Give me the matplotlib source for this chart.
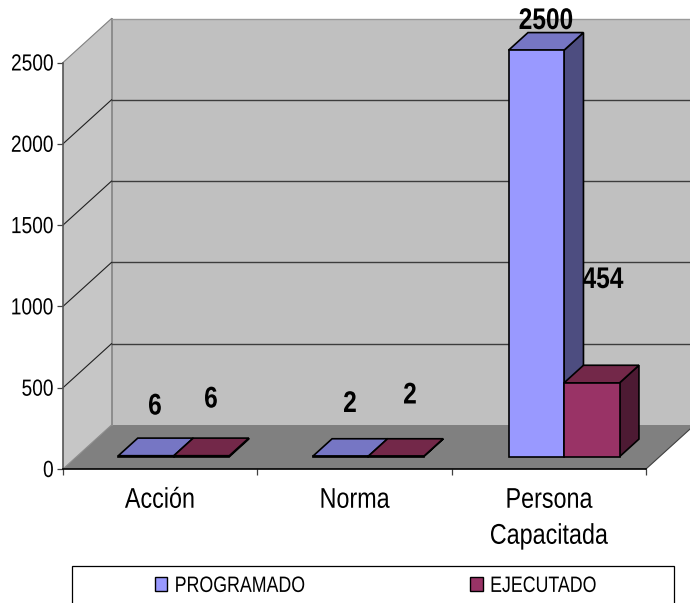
import matplotlib
matplotlib.use("Agg")
import matplotlib.pyplot as plt
from matplotlib.patches import Polygon, Rectangle, Patch
from matplotlib.patheffects import AbstractPathEffect
from matplotlib.transforms import Affine2D, ScaledTranslation

categories = ["Acción", "Norma", "Persona\nCapacitada"]
series_names = ["PROGRAMADO", "EJECUTADO"]
programado = [6, 2, 2500]
ejecutado = [6, 2, 454]
y_ticks = [0, 500, 1000, 1500, 2000, 2500]

W, H = 690, 603
plt.rcParams["font.family"] = ["Liberation Sans", "DejaVu Sans"]


class Squeeze(AbstractPathEffect):
    """Condense real text horizontally (the reference uses squeezed Arial)."""

    def __init__(self, factor=0.82, anchor="center"):
        super().__init__()
        self.factor = factor
        self.anchor = anchor

    def draw_path(self, renderer, gc, tpath, affine, rgbFace=None):
        ext = tpath.transformed(affine).get_extents()
        cx = {"center": (ext.x0 + ext.x1) / 2, "left": ext.x0, "right": ext.x1}[self.anchor]
        squeezed = affine + Affine2D().translate(-cx, 0).scale(self.factor, 1).translate(cx, 0)
        renderer.draw_path(gc, tpath, squeezed, rgbFace)


fig = plt.figure(figsize=(W / 100, H / 100), dpi=100, facecolor="white")
ax = fig.add_axes([63 / W, (H - 469) / H, 583 / W, 406.5 / H])
ax.set_xlim(0, 3)
ax.set_ylim(0, 2500)
ax.patch.set_visible(False)

# depth of the 3-D box, in data units per unit of depth
DX = 48.5 / (583 / 3)
DY = 44 / (406.5 / 2500)


def P(x, v, z):
    return (x + z * DX, v + z * DY)


def poly(pts, fc, ec="none", lw=0.0, zorder=1):
    ax.add_patch(Polygon(pts, closed=True, facecolor=fc, edgecolor=ec, linewidth=lw,
                         joinstyle="miter", zorder=zorder, clip_on=False))


# walls and floor
top = y_ticks[-1]
poly([P(0, 0, 1), P(3, 0, 1), P(3, top, 1), P(0, top, 1)], "#C0C0C0", zorder=1)
poly([P(0, 0, 0), P(0, 0, 1), P(0, top, 1), P(0, top, 0)], "#C6C6C6", zorder=1)
poly([P(0, 0, 0), P(3, 0, 0), P(3, 0, 1), P(0, 0, 1)], "#808080", zorder=1)
ax.plot(*zip(P(0, 0, 1), P(0, top, 1)), color="#8C8C8C", lw=1.4, zorder=2, clip_on=False)
ax.plot(*zip(P(0, 0, 0), P(0, 0, 1)), color="#8C8C8C", lw=0.8, zorder=2, clip_on=False)
ax.plot(*zip(P(3, 0, 0), P(3, 0, 1)), color="#404040", lw=0.8, zorder=2, clip_on=False)
for t in y_ticks[1:]:
    grid_color = "#9A9A9A" if t == top else "#3C3C3C"
    ax.plot(*zip(P(0, t, 1), P(3, t, 1)), color=grid_color, lw=1.0, zorder=2, clip_on=False)
    ax.plot(*zip(P(0, t, 0), P(0, t, 1)), color="#202020" if t != top else "#808080",
            lw=0.8, zorder=2, clip_on=False)

# bars
BAR_W = 0.2855
GAP = 0.215
Z0, Z1 = 0.28, 0.68
palette = [("#9999FF", "#7676C4", "#4D4D80"), ("#993366", "#732849", "#4D1A33")]
for s, values in enumerate([programado, ejecutado]):
    front, upper, side = palette[s]
    for c, v in enumerate(values):
        x0 = c + GAP + s * BAR_W + (0.008 if c == 2 else 0)
        x1 = x0 + BAR_W
        kw = dict(ec="black", lw=1.2, zorder=5 + s)
        poly([P(x1, 0, Z0), P(x1, 0, Z1), P(x1, v, Z1), P(x1, v, Z0)], side, **kw)
        poly([P(x0, v, Z0), P(x1, v, Z0), P(x1, v, Z1), P(x0, v, Z1)], upper, **kw)
        poly([P(x0, 0, Z0), P(x1, 0, Z0), P(x1, v, Z0), P(x0, v, Z0)], front, **kw)

# axes
for sp in ("top", "right"):
    ax.spines[sp].set_visible(False)
ax.spines["left"].set_color("#555555")
ax.spines["left"].set_linewidth(1.2)
ax.spines["bottom"].set_color("black")
ax.spines["bottom"].set_linewidth(1.2)
ax.spines["left"].set_zorder(3)
ax.spines["bottom"].set_zorder(3)
ax.set_yticks(y_ticks)
ax.set_yticklabels([str(t) for t in y_ticks], fontsize=16.8)
ax.tick_params(axis="y", length=4.5, width=0.9, color="#404040", pad=2, labelcolor="black")
nudge_up = ScaledTranslation(0, 1 / 100, fig.dpi_scale_trans)
for t in ax.get_yticklabels():
    t.set_path_effects([Squeeze(0.82, "right")])
    t.set_transform(t.get_transform() + nudge_up)
ax.set_xticks([0, 1, 2, 3])
ax.set_xticklabels([])
ax.set_xticks([0.5, 1.5, 2.5], minor=True)
ax.set_xticklabels(categories, minor=True, fontsize=20.5, linespacing=1.5)
ax.tick_params(axis="x", which="major", length=4.5, width=0.9, color="#404040")
ax.tick_params(axis="x", which="minor", length=0, pad=13.5)
for t in ax.get_xticklabels(minor=True):
    t.set_path_effects([Squeeze(0.82, "center")])


# value labels (pixel placement as in the reference)
def label(text, px, py):
    fig.text(px / W, 1 - py / H, str(text), ha="center", va="center", fontsize=21.5,
             fontweight="bold", color="black", zorder=10,
             path_effects=[Squeeze(0.82, "center")])


label(programado[0], 155, 406.5)
label(ejecutado[0], 211, 399.5)
label(programado[1], 350, 404)
label(ejecutado[1], 410, 395.5)
label(programado[2], 546, 21)
label(ejecutado[2], 603, 280)

# legend: frame runs off the bottom of the figure
fig.add_artist(Rectangle((72 / W, -0.02), (674 - 72) / W, (H - 566) / H + 0.02,
                         transform=fig.transFigure, facecolor="white",
                         edgecolor="black", linewidth=0.9))
handles = [Patch(facecolor=palette[i][0], edgecolor="black", linewidth=1.0, label=series_names[i])
           for i in range(2)]
leg = fig.legend(handles=handles, loc="upper left", ncol=2, mode="expand",
                 bbox_to_anchor=(155 / W, 1 - 594 / H, 468 / W, 0.03),
                 frameon=False, fontsize=16, borderpad=0, borderaxespad=0,
                 handlelength=0.55, handleheight=0.6, handletextpad=0.32, labelspacing=0)
for t in leg.get_texts():
    t.set_path_effects([Squeeze(0.8, "left")])

fig.savefig("out.png", dpi=100)
